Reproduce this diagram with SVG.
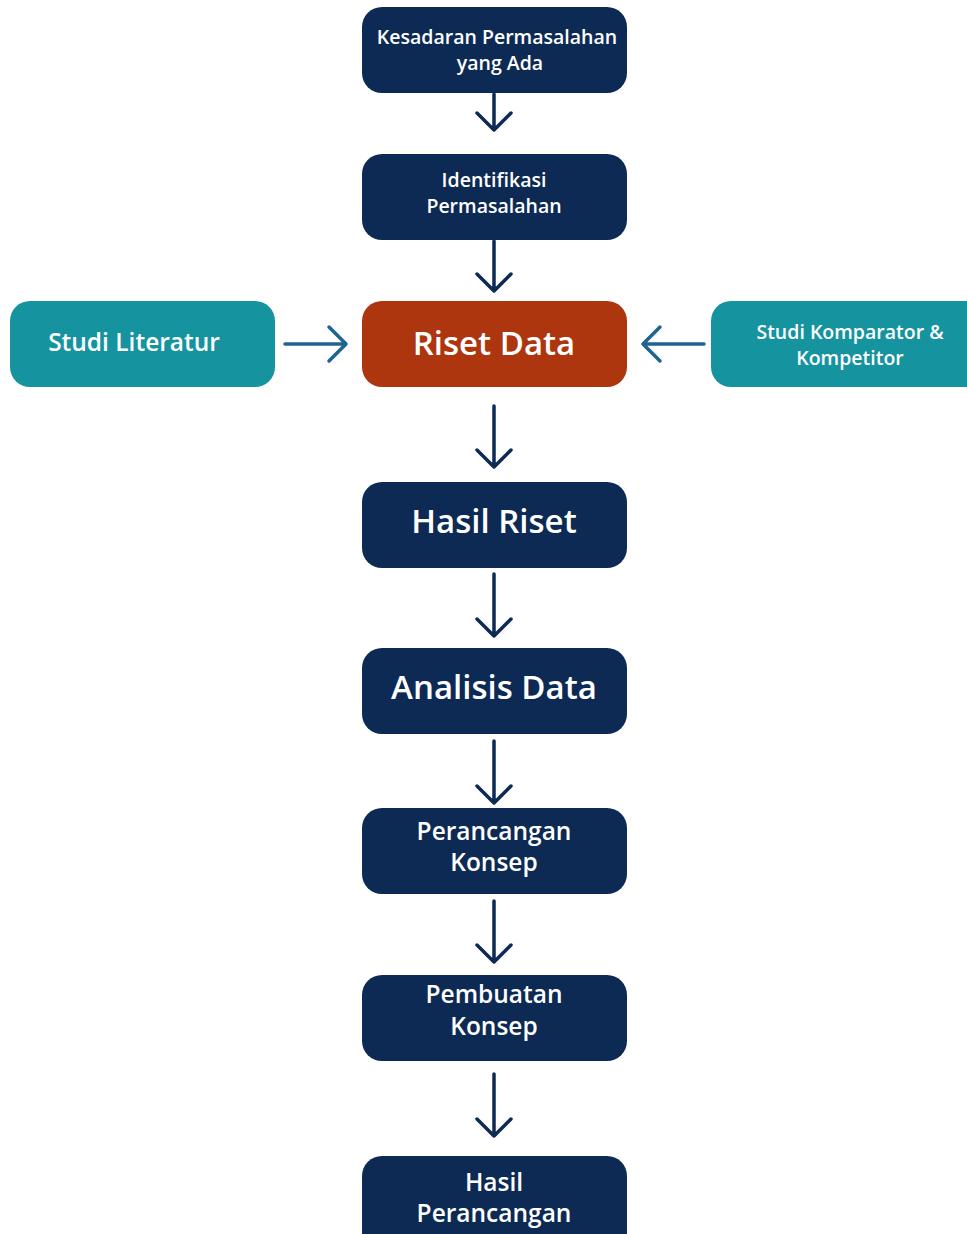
<svg xmlns="http://www.w3.org/2000/svg" width="967" height="1234" viewBox="0 0 967 1234">
<style>
.n{fill:#0d2a54}
.r{fill:#ad360f}
.t{fill:#15939e}
text{font-family:"Open Sans","Noto Sans","Liberation Sans",sans-serif;font-weight:600;fill:#ffffff;text-anchor:middle}
.s{font-size:19.5px}
.m{font-size:24.5px}
.l{font-size:33px}
.c{fill:none;stroke:#0d2a54;stroke-width:3.5;stroke-linecap:round;stroke-linejoin:round}
.h{stroke:#1f6391}
</style>
<rect width="967" height="1234" fill="#ffffff"/>
<g id="connectors">
<path class="c" d="M494 94V130M477 113L494 130L511 113"/>
<path class="c" d="M494 241V291M477 274L494 291L511 274"/>
<path class="c" d="M494 406V467M477 450L494 467L511 450"/>
<path class="c" d="M494 574V636M477 619L494 636L511 619"/>
<path class="c" d="M494 741V803M477 786L494 803L511 786"/>
<path class="c" d="M494 901V962M477 945L494 962L511 945"/>
<path class="c" d="M494 1074V1136M477 1119L494 1136L511 1119"/>
<path class="c h" d="M285 344H346M329 327L346 344L329 361"/>
<path class="c h" d="M704 344H643M660 327L643 344L660 361"/>
</g>
<g id="n1"><rect class="n" x="362" y="7" width="265" height="86" rx="20"/><text class="s" x="497" y="44">Kesadaran Permasalahan</text><text class="s" x="500" y="70">yang Ada</text></g>
<g id="n2"><rect class="n" x="362" y="154" width="265" height="86" rx="20"/><text class="s" x="494" y="187">Identifikasi</text><text class="s" x="494" y="213">Permasalahan</text></g>
<g id="n3"><rect class="r" x="362" y="301" width="265" height="86" rx="20"/><text class="l" x="494" y="355">Riset Data</text></g>
<g id="n4"><rect class="t" x="10" y="301" width="265" height="86" rx="20"/><text class="m" x="134" y="351">Studi Literatur</text></g>
<g id="n5"><rect class="t" x="711" y="301" width="280" height="86" rx="20"/><text class="s" x="850" y="339">Studi Komparator &amp;</text><text class="s" x="850" y="365">Kompetitor</text></g>
<g id="n6"><rect class="n" x="362" y="482" width="265" height="86" rx="20"/><text class="l" x="494" y="533">Hasil Riset</text></g>
<g id="n7"><rect class="n" x="362" y="648" width="265" height="86" rx="20"/><text class="l" x="494" y="699">Analisis Data</text></g>
<g id="n8"><rect class="n" x="362" y="808" width="265" height="86" rx="20"/><text class="m" x="494" y="840">Perancangan</text><text class="m" x="494" y="871">Konsep</text></g>
<g id="n9"><rect class="n" x="362" y="975" width="265" height="86" rx="20"/><text class="m" x="494" y="1003">Pembuatan</text><text class="m" x="494" y="1035">Konsep</text></g>
<g id="n10"><rect class="n" x="362" y="1156" width="265" height="100" rx="20"/><text class="m" x="494" y="1191">Hasil</text><text class="m" x="494" y="1222">Perancangan</text></g>
</svg>
